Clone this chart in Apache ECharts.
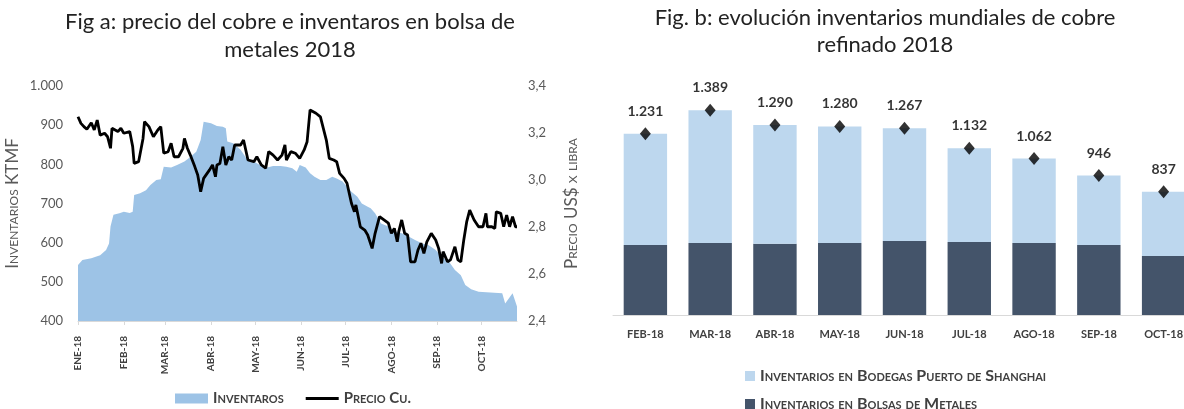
<!DOCTYPE html>
<html>
<head>
<meta charset="utf-8">
<script src="https://cdn.jsdelivr.net/npm/echarts@6/dist/echarts.min.js"></script>
<style>
html,body{margin:0;padding:0;background:#fff;}
#c{width:1184px;height:409px;}
</style>
</head>
<body>
<div id="c"></div>
<script>
// ---------- Fig a data (day index from 1 Jan 2018) ----------
const monthLabels = ['ENE-18','FEB-18','MAR-18','ABR-18','MAY-18','JUN-18','JUL-18','AGO-18','SEP-18','OCT-18'];
const monthStartDays = [0,31,59,90,120,151,181,212,243,273];

const invDays = [0,3,9,12,15,19,21,22,24,28,31,35,37,38,42,46,49,53,56,58,63,67,72,76,80,83,85,90,94,98,100,101,105,110,114,119,123,128,132,137,141,145,148,150,154,157,160,164,168,172,175,179,182,185,189,192,196,198,201,205,210,215,219,224,228,233,237,242,246,251,255,259,262,266,271,287,289,294,297];
const invValues = [543,556,560,564,568,581,598,641,671,675,679,676,679,722,726,734,747,760,762,794,792,798,807,819,832,862,909,905,898,896,892,858,854,837,815,807,798,792,796,796,794,790,781,798,792,777,768,760,760,768,764,756,743,730,717,700,692,688,675,649,641,628,624,615,607,598,594,581,564,551,530,517,492,481,475,471,445,471,437];

const priceDays = [0,2,4,6,9,11,13,15,18,20,22,23,27,29,31,35,37,38,41,44,45,48,51,54,56,58,61,63,65,68,71,72,74,76,79,81,83,85,89,91,93,94,96,98,100,102,104,106,110,112,115,119,121,124,127,129,132,135,138,140,141,144,147,150,153,155,157,161,164,168,170,173,175,177,180,182,185,187,188,191,194,196,199,201,204,207,210,212,214,216,217,219,221,223,225,228,230,232,234,236,239,242,244,246,247,250,252,255,257,259,261,263,265,268,271,274,276,277,280,282,283,286,288,290,292,294,296,297];
const priceValues = [3.269,3.241,3.227,3.216,3.244,3.213,3.255,3.191,3.199,3.184,3.135,3.220,3.206,3.220,3.199,3.206,3.142,3.071,3.078,3.177,3.248,3.227,3.184,3.213,3.227,3.114,3.121,3.156,3.099,3.099,3.135,3.177,3.135,3.106,3.057,3.021,2.950,3.007,3.043,3.064,3.014,3.064,3.070,3.142,3.064,3.099,3.085,3.149,3.149,3.170,3.085,3.078,3.099,3.064,3.050,3.121,3.106,3.085,3.106,3.149,3.085,3.121,3.114,3.092,3.128,3.163,3.298,3.284,3.269,3.170,3.092,3.085,3.078,3.028,3.007,2.986,2.901,2.865,2.894,2.801,2.787,2.766,2.709,2.773,2.844,2.830,2.816,2.773,2.794,2.737,2.780,2.830,2.773,2.766,2.652,2.652,2.702,2.731,2.688,2.737,2.773,2.745,2.709,2.645,2.695,2.652,2.660,2.716,2.660,2.652,2.745,2.823,2.872,2.830,2.801,2.801,2.858,2.801,2.801,2.794,2.865,2.858,2.801,2.851,2.801,2.844,2.801,2.801];

// ---------- Fig b data ----------
const months2 = ['FEB-18','MAR-18','ABR-18','MAY-18','JUN-18','JUL-18','AGO-18','SEP-18','OCT-18'];
const bolsas = [475,488,483,488,503,495,488,475,400];
const shanghai = [756,901,807,792,764,637,574,471,437];
const totals = [1231,1389,1290,1280,1267,1132,1062,946,837];

const invSeries = invDays.map((d,i)=>[d, invValues[i]]);
const priceSeries = priceDays.map((d,i)=>[d, priceValues[i]]);
const fmtThousands = v => { const s = String(Math.round(v)); return s.length > 3 ? s.slice(0, s.length-3) + '.' + s.slice(-3) : s; };

const FONT = 'Lato';
const chart = echarts.init(document.getElementById('c'), null, {renderer:'canvas'});
chart.setOption({
  animation:false,
  backgroundColor:'#fff',
  textStyle:{fontFamily:FONT},
  title:[
    {text:'Fig a: precio del cobre e inventaros en bolsa de\nmetales 2018', left:290, top:8, padding:0, textAlign:'center',
     textStyle:{fontFamily:FONT, fontSize:22, fontWeight:'normal', color:'#222', lineHeight:28}},
    {text:'Fig. b: evolución inventarios mundiales de cobre\nrefinado 2018', left:885, top:4, padding:0, textAlign:'center',
     textStyle:{fontFamily:FONT, fontSize:22, fontWeight:'normal', color:'#222', lineHeight:27}}
  ],
  legend:[
    {left:175, top:391, orient:'horizontal', padding:0, itemWidth:33, itemHeight:10, itemGap:22,
     data:[{name:'Inventaros', icon:'rect'}, {name:'Precio Cu.', icon:'path://M0,0 L33,0 L33,3 L0,3 Z'}],
     textStyle:{fontFamily:FONT, fontStyle:'small-caps', fontWeight:'bold', fontSize:15, color:'#404040'}},
    {left:745, top:368, orient:'vertical', padding:0, height:80, itemWidth:10, itemHeight:10, itemGap:12,
     data:[{name:'Inventarios en Bodegas Puerto de Shanghai', icon:'rect'}, {name:'Inventarios en Bolsas de Metales', icon:'rect'}],
     textStyle:{fontFamily:FONT, fontStyle:'small-caps', fontWeight:'bold', fontSize:16, color:'#404040'}}
  ],
  grid:[
    {left:78, top:86, width:439, height:235, outerBoundsMode:'none', containLabel:false},
    {left:613, top:94, width:583, height:221, outerBoundsMode:'none', containLabel:false}
  ],
  xAxis:[
    {type:'value', gridIndex:0, min:0, max:297,
     axisLine:{show:true, lineStyle:{color:'#d9d9d9'}},
     axisTick:{show:true, customValues:monthStartDays, length:4, lineStyle:{color:'#d9d9d9'}},
     axisLabel:{customValues:monthStartDays, rotate:90, margin:15, fontFamily:FONT, fontWeight:'bold', fontSize:10, color:'#404040',
       formatter:v => monthLabels[monthStartDays.indexOf(v)]},
     splitLine:{show:false}},
    {type:'category', gridIndex:1, data:months2,
     axisLine:{show:true, lineStyle:{color:'#d9d9d9'}},
     axisTick:{show:false},
     axisLabel:{margin:14, fontFamily:FONT, fontWeight:'bold', fontSize:11, color:'#404040'}}
  ],
  yAxis:[
    {type:'value', gridIndex:0, min:400, max:1000, interval:100,
     name:'Inventarios KTMF', nameLocation:'middle', nameRotate:90, nameGap:57,
     nameTextStyle:{fontFamily:FONT, fontStyle:'small-caps', fontSize:17, color:'#595959'},
     axisLine:{show:false}, axisTick:{show:false}, splitLine:{show:false},
     axisLabel:{margin:15, fontFamily:FONT, fontSize:13, color:'#595959', formatter:v => fmtThousands(v)}},
    {type:'value', gridIndex:0, position:'right', min:2.4, max:3.4, interval:0.2,
     name:'Precio US$ x libra', nameLocation:'middle', nameRotate:90, nameGap:46,
     nameTextStyle:{fontFamily:FONT, fontStyle:'small-caps', fontSize:17, color:'#595959'},
     axisLine:{show:false}, axisTick:{show:false}, splitLine:{show:false},
     axisLabel:{margin:11, fontFamily:FONT, fontSize:13, color:'#595959', formatter:v => v.toFixed(1).replace('.',',')}},
    {type:'value', gridIndex:1, min:0, max:1500, show:false, splitLine:{show:false}}
  ],
  series:[
    {name:'Inventaros', type:'line', xAxisIndex:0, yAxisIndex:0, data:invSeries, symbol:'none',
     lineStyle:{width:0}, itemStyle:{color:'#9dc3e6'}, areaStyle:{color:'#9dc3e6', opacity:1}, z:1},
    {name:'Precio Cu.', type:'line', xAxisIndex:0, yAxisIndex:1, data:priceSeries, symbol:'none',
     lineStyle:{width:2.8, color:'#000'}, itemStyle:{color:'#000'}, z:3},
    {name:'Inventarios en Bolsas de Metales', type:'bar', xAxisIndex:1, yAxisIndex:2, stack:'b', data:bolsas,
     barCategoryGap:'33%', itemStyle:{color:'#44546a'}},
    {name:'Inventarios en Bodegas Puerto de Shanghai', type:'bar', xAxisIndex:1, yAxisIndex:2, stack:'b', data:shanghai,
     barCategoryGap:'33%', itemStyle:{color:'#bdd7ee'}},
    {name:'Total', type:'scatter', xAxisIndex:1, yAxisIndex:2, data:totals, symbol:'diamond', symbolSize:[11,13],
     itemStyle:{color:'#000'}, z:5,
     label:{show:true, position:'top', distance:9, fontFamily:FONT, fontWeight:'bold', fontSize:14, color:'#000',
       formatter:p => fmtThousands(p.value)}}
  ]
});
</script>
</body>
</html>
